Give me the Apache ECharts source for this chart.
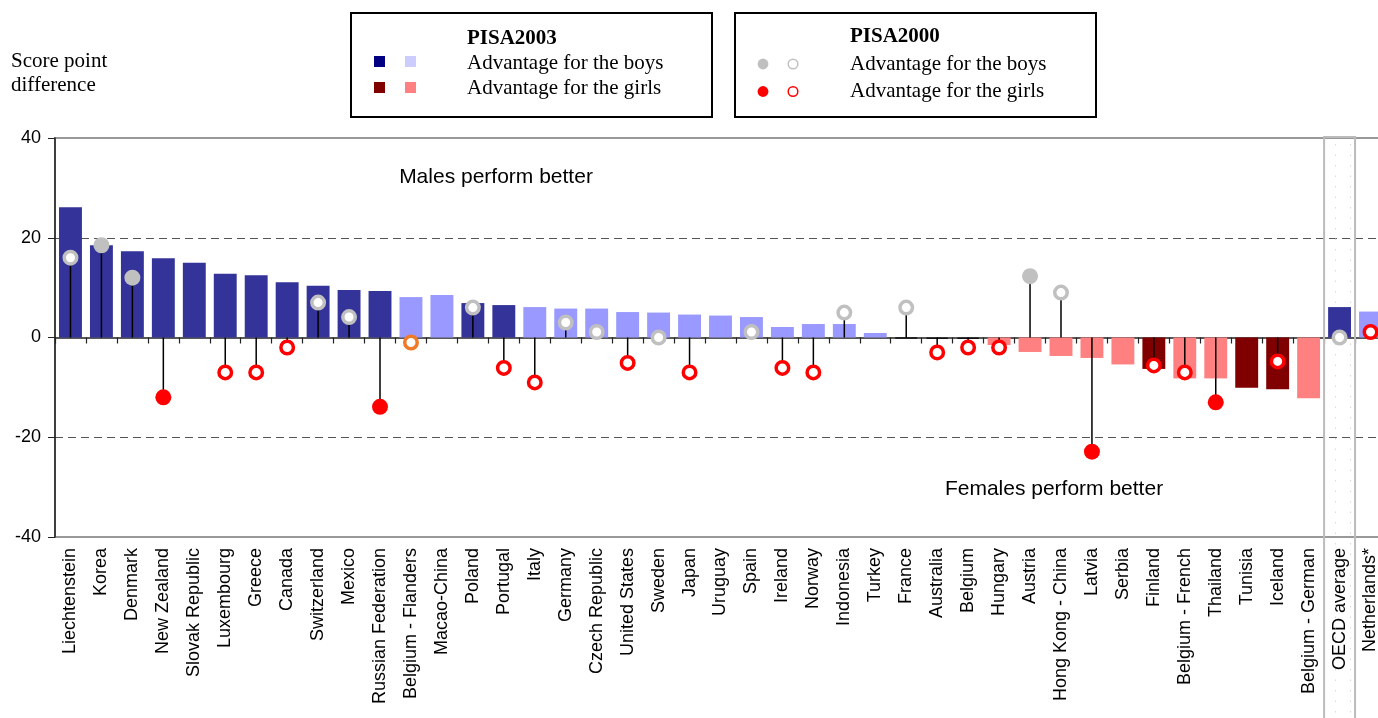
<!DOCTYPE html>
<html>
<head>
<meta charset="utf-8">
<script src="https://cdn.jsdelivr.net/npm/echarts@6/dist/echarts.min.js"></script>
<style>
html,body{margin:0;padding:0;background:#fff;}
#c{width:1378px;height:718px;}
</style>
</head>
<body>
<div id="c"></div>
<script>
// ---------------- DATA ----------------
const categories = ["Liechtenstein","Korea","Denmark","New Zealand","Slovak Republic","Luxembourg","Greece","Canada","Switzerland","Mexico","Russian Federation","Belgium - Flanders","Macao-China","Poland","Portugal","Italy","Germany","Czech Republic","United States","Sweden","Japan","Uruguay","Spain","Ireland","Norway","Indonesia","Turkey","France","Australia","Belgium","Hungary","Austria","Hong Kong - China","Latvia","Serbia","Finland","Belgium - French","Thailand","Tunisia","Iceland","Belgium - German","OECD average","Netherlands*"];
// PISA 2003 score point difference (boys - girls)
const score2003 = [26.1,18.5,17.3,15.9,15.0,12.8,12.5,11.1,10.4,9.5,9.3,8.1,8.5,6.9,6.5,6.1,5.8,5.8,5.1,5.0,4.6,4.4,4.1,2.1,2.7,2.7,0.9,-0.2,-0.3,-0.3,-1.5,-2.9,-3.7,-4.1,-5.4,-6.3,-8.2,-8.2,-10.1,-10.4,-12.2,6.1,5.2];
// D = statistically significant, L = not significant, K = near zero
const tone2003 = ["D","D","D","D","D","D","D","D","D","D","D","L","L","D","D","L","L","L","L","L","L","L","L","L","L","L","L","K","K","K","L","L","L","L","L","D","L","L","D","D","L","D","L"];
// PISA 2000 score point difference
const score2000 = [16,18.5,12,-12,null,-7,-7,-2,7,4.1,-13.9,-1,null,6,-6.1,-9,3,1.1,-5.1,0,-7,null,1.1,-6.1,-7,5,null,6,-3,-2,-2,12.3,9,-22.9,null,-5.6,-7,-13,null,-4.8,null,0,1.1];
// GF gray filled, GO gray open, RF red filled, RO red open, OO orange open
const mark2000 = ["GO","GF","GF","RF",null,"RO","RO","RO","GO","GO","RF","OO",null,"GO","RO","RO","GO","GO","RO","GO","RO",null,"GO","RO","RO","GO",null,"GO","RO","RO","RO","GF","GO","RF",null,"RO","RO","RF",null,"RO",null,"GO","RO"];
const yTickValues = [-40,-20,0,20,40];

// ---------------- STYLES ----------------
const C = {
  boyD:'#333399', boyL:'#9999FF', girlD:'#800000', girlL:'#FF8080', zero:'#111111',
  gray:'#C0C0C0', red:'#FF0000', orange:'#F07A28'
};
function barColor(v,t){
  if(t==='K') return C.zero;
  if(v>=0) return t==='D'?C.boyD:C.boyL;
  return t==='D'?C.girlD:C.girlL;
}
const barData = score2003.map((v,i)=>{
  const t = tone2003[i];
  const st = {color:barColor(v,t)};
  if(t==='K'){ st.borderColor = C.zero; st.borderWidth = 1.5; }
  return {value:v,itemStyle:st};
});
const pointData = score2000.map((v,i)=>{
  const m = mark2000[i];
  if(v==null||!m) return null;
  if(m==='GF') return {value:[i,v],symbolSize:16,itemStyle:{color:C.gray,borderWidth:0,opacity:1}};
  if(m==='RF') return {value:[i,v],symbolSize:16,itemStyle:{color:C.red,borderWidth:0,opacity:1}};
  const col = m==='GO'?C.gray:(m==='RO'?C.red:C.orange);
  return {value:[i,v],symbolSize:12.5,itemStyle:{color:'#fff',borderColor:col,borderWidth:3.5,opacity:1}};
}).filter(d=>d);
const stemData = score2000.map((v,i)=>v==null?null:[i,v]).filter(d=>d);

const sans = 'Liberation Sans, Arial, sans-serif';
const serif = 'Liberation Serif, Times New Roman, serif';

const chart = echarts.init(document.getElementById('c'),null,{renderer:'canvas'});
const option = {
  animation:false,
  backgroundColor:'#fff',
  grid:{left:55, top:138, bottom:181, width:1331, outerBoundsMode:'none', show:true, borderColor:'#999', borderWidth:2, backgroundColor:'transparent', containLabel:false},
  xAxis:[
    {type:'category', data:categories, position:'bottom',
     axisLine:{show:false, onZero:false}, axisTick:{show:false},
     axisLabel:{rotate:90, interval:0, fontSize:18, fontFamily:sans, color:'#000', margin:11},
     splitLine:{show:false}},
    {type:'category', data:categories, position:'top',
     axisLine:{show:true, onZero:true, lineStyle:{color:'#222', width:1.5}},
     axisTick:{show:true, interval:0, inside:true, length:6, lineStyle:{color:'#222', width:1.2}},
     axisLabel:{show:false, interval:0}, splitLine:{show:false}}
  ],
  yAxis:{type:'value', min:-40, max:40, interval:20,
    axisLine:{show:true, onZero:false, lineStyle:{color:'#222', width:1.5}},
    axisTick:{show:true, length:7, lineStyle:{color:'#222', width:1}},
    axisLabel:{fontSize:18, fontFamily:sans, color:'#000', margin:14},
    splitLine:{show:true, lineStyle:{color:['rgba(0,0,0,0)','#555','rgba(0,0,0,0)','#555','rgba(0,0,0,0)'], type:[8,5], width:1}}
  },
  series:[
    {type:'bar', xAxisIndex:0, data:barData, barWidth:'74%', z:2},
    {type:'custom', xAxisIndex:0, z:3, data:stemData, encode:{x:0,y:1},
     renderItem:(params,api)=>{
       const i = api.value(0), v = api.value(1);
       const p0 = api.coord([i,0]), p1 = api.coord([i,v]);
       return {type:'line', shape:{x1:p0[0],y1:p0[1],x2:p1[0],y2:p1[1]}, style:{stroke:'#000', lineWidth:1.5}};
     }},
    {type:'scatter', xAxisIndex:0, z:4, symbol:'circle', data:pointData, itemStyle:{opacity:1}}
  ]
};
chart.setOption(option);

// ---------------- DECORATIONS (legend, notes, OECD frame) ----------------
const pO = chart.convertToPixel({xAxisIndex:0,yAxisIndex:0}, ['OECD average', 40]);
const pB = chart.convertToPixel({xAxisIndex:0,yAxisIndex:0}, ['Belgium - German', 40]);
const band = pO[0]-pB[0];
const oL = pO[0]-band/2;
const g = [];
// y-axis title
g.push({type:'text', left:11, top:51, style:{text:'Score point', font:'21px '+serif, fill:'#000'}});
g.push({type:'text', left:11, top:75, style:{text:'difference', font:'21px '+serif, fill:'#000'}});
// legend box 1
g.push({type:'rect', shape:{x:351,y:13,width:361,height:104}, style:{fill:'#fff', stroke:'#000', lineWidth:2}});
g.push({type:'text', x:467, y:39, style:{text:'PISA2003', font:'bold 21px '+serif, fill:'#000', verticalAlign:'middle'}});
g.push({type:'rect', shape:{x:374,y:56,width:11,height:11}, style:{fill:'#000080'}});
g.push({type:'rect', shape:{x:405,y:56,width:11,height:11}, style:{fill:'#CCCCFF'}});
g.push({type:'rect', shape:{x:374,y:82,width:11,height:11}, style:{fill:'#800000'}});
g.push({type:'rect', shape:{x:405,y:82,width:11,height:11}, style:{fill:'#FF8080'}});
g.push({type:'text', x:467, y:63, style:{text:'Advantage for the boys', font:'21px '+serif, fill:'#000', verticalAlign:'middle'}});
g.push({type:'text', x:467, y:88, style:{text:'Advantage for the girls', font:'21px '+serif, fill:'#000', verticalAlign:'middle'}});
// legend box 2
g.push({type:'rect', shape:{x:735,y:13,width:361,height:104}, style:{fill:'#fff', stroke:'#000', lineWidth:2}});
g.push({type:'text', x:850, y:37, style:{text:'PISA2000', font:'bold 21px '+serif, fill:'#000', verticalAlign:'middle'}});
g.push({type:'circle', shape:{cx:763,cy:64,r:5.4}, style:{fill:C.gray}});
g.push({type:'circle', shape:{cx:793,cy:64,r:4.8}, style:{fill:'#fff', stroke:C.gray, lineWidth:1.5}});
g.push({type:'circle', shape:{cx:763,cy:91.5,r:5.4}, style:{fill:C.red}});
g.push({type:'circle', shape:{cx:793,cy:91.5,r:4.8}, style:{fill:'#fff', stroke:C.red, lineWidth:1.5}});
g.push({type:'text', x:850, y:64, style:{text:'Advantage for the boys', font:'21px '+serif, fill:'#000', verticalAlign:'middle'}});
g.push({type:'text', x:850, y:91.5, style:{text:'Advantage for the girls', font:'21px '+serif, fill:'#000', verticalAlign:'middle'}});
// notes
g.push({type:'text', x:496, y:177, style:{text:'Males perform better', font:'21px '+sans, fill:'#000', align:'center', verticalAlign:'middle'}});
g.push({type:'text', x:1054, y:489, style:{text:'Females perform better', font:'21px '+sans, fill:'#000', align:'center', verticalAlign:'middle'}});
// OECD frame
g.push({type:'line', shape:{x1:oL+11.5,y1:pO[1]+6,x2:oL+11.5,y2:720}, style:{stroke:'#D8D8D8', lineWidth:1, lineDash:[1.5,9]}, z:1});
g.push({type:'line', shape:{x1:oL+26.5,y1:pO[1]+6,x2:oL+26.5,y2:720}, style:{stroke:'#D8D8D8', lineWidth:1, lineDash:[1.5,9]}, z:1});
g.push({type:'rect', shape:{x:oL,y:pO[1]-1,width:band,height:730-pO[1]}, style:{fill:'none', stroke:'#BBBBBB', lineWidth:2}, z:10});
chart.setOption({graphic:g});
</script>
</body>
</html>
